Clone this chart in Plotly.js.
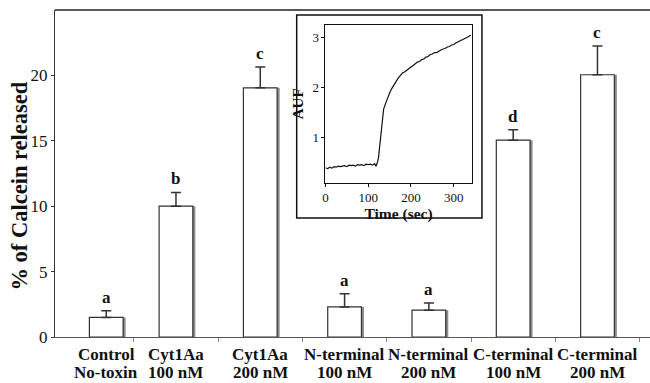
<!DOCTYPE html>
<html>
<head>
<meta charset="utf-8">
<script src="https://cdn.plot.ly/plotly-3.0.1.min.js"></script>
<style>html,body{margin:0;padding:0;background:#fff;}#chart{width:650px;height:383px;}</style>
</head>
<body>
<div id="chart"></div>
<script>
// ---- data ----
var categories = ["Control No-toxin", "Cyt1Aa 100 nM", "Cyt1Aa 200 nM", "N-terminal 100 nM", "N-terminal 200 nM", "C-terminal 100 nM", "C-terminal 200 nM"];
var labelLine1 = ["Control", "Cyt1Aa", "Cyt1Aa", "N-terminal", "N-terminal", "C-terminal", "C-terminal"];
var labelLine2 = ["No-toxin", "100 nM", "200 nM", "100 nM", "200 nM", "100 nM", "200 nM"];
var released = [1.5, 10.0, 19.05, 2.3, 2.05, 15.05, 20.05];
var releasedErr = [0.5, 1.05, 1.6, 1.0, 0.55, 0.8, 2.2];
var letters = ["a", "b", "c", "a", "a", "d", "c"];
var yTicks = [0, 5, 10, 15, 20];

// inset: fluorescence trace
var timeSec = [0,5,10,15,20,25,30,35,40,45,50,55,60,65,70,75,80,85,90,95,100,105,110,115,118,120,122,124,126,128,130,132,136,140,145,150,155,160,165,170,175,180,185,190,195,200,205,210,215,220,225,230,235,240,245,250,255,260,265,270,275,280,285,290,295,300,305,310,315,320,325,330,335,340];
var auf = [0.40,0.38,0.41,0.39,0.42,0.41,0.43,0.42,0.43,0.44,0.42,0.45,0.44,0.45,0.43,0.46,0.45,0.46,0.44,0.47,0.46,0.47,0.45,0.48,0.43,0.47,0.52,0.60,0.78,0.97,1.17,1.35,1.57,1.67,1.79,1.89,1.98,2.06,2.12,2.19,2.24,2.29,2.31,2.35,2.39,2.41,2.44,2.47,2.51,2.52,2.56,2.57,2.61,2.62,2.66,2.67,2.70,2.70,2.73,2.75,2.77,2.78,2.81,2.82,2.85,2.86,2.89,2.91,2.93,2.95,2.98,2.99,3.02,3.05];
var insetXTicks = [0, 100, 200, 300];
var insetYTicks = [1, 2, 3];

// ---- styling / layout ----
var serif = "Liberation Serif";
var barWidth = 0.4;
var firstShift = 0.173;           // the control bar sits a little right of its slot
var offsets = categories.map(function(c, i){ return -barWidth/2 + (i === 0 ? firstShift : 0); });
var shadowOffsets = offsets.map(function(o){ return o + 0.03; });
var pxShift = firstShift * 84.3;

var shadow = {
  type: "bar", x: categories, y: released, width: barWidth, offset: shadowOffsets,
  marker: {color: "#8c8c8c", line: {width: 0}}, hoverinfo: "skip", xaxis: "x", yaxis: "y"
};
var bars = {
  type: "bar", x: categories, y: released, width: barWidth, offset: offsets,
  marker: {color: "#ffffff", line: {color: "#333333", width: 1.2}},
  error_y: {type: "data", symmetric: false, array: releasedErr,
            arrayminus: releasedErr.map(function(){ return 0; }),
            color: "#333333", thickness: 1.5, width: 5},
  xaxis: "x", yaxis: "y"
};
var trace = {
  type: "scatter", mode: "lines", x: timeSec, y: auf,
  line: {color: "#111111", width: 1.2}, xaxis: "x2", yaxis: "y2"
};

var annotations = [];
categories.forEach(function(c, i){
  var xs = i === 0 ? pxShift : 0;
  annotations.push({x: c, xref: "x", y: released[i] + releasedErr[i], yref: "y",
    yanchor: "bottom", yshift: 2, xshift: xs, text: "<b>" + letters[i] + "</b>", showarrow: false,
    font: {family: serif, size: 17, color: "#111"}});
  annotations.push({x: c, xref: "x", y: 0, yref: "paper", yanchor: "middle", yshift: -17, xshift: xs,
    text: "<b>" + labelLine1[i] + "</b>", showarrow: false, font: {family: serif, size: 17, color: "#111"}});
  annotations.push({x: c, xref: "x", y: 0, yref: "paper", yanchor: "middle", yshift: -35.5, xshift: xs,
    text: "<b>" + labelLine2[i] + "</b>", showarrow: false, font: {family: serif, size: 17, color: "#111"}});
});
annotations.push({xref: "paper", yref: "paper", x: 0, y: 0.46, xanchor: "center", yanchor: "middle",
  xshift: -35, textangle: -90, showarrow: false, text: "<b>% of Calcein released</b>",
  font: {family: serif, size: 22.5, color: "#111"}});

var layout = {
  width: 650, height: 383,
  margin: {l: 55, r: 0, t: 10, b: 46},
  paper_bgcolor: "#ffffff", plot_bgcolor: "#ffffff",
  showlegend: false, barmode: "overlay",
  font: {family: serif, color: "#111"},
  xaxis: {type: "category", range: [-0.435, 6.623], showline: true, linecolor: "#555", linewidth: 1,
          ticks: "outside", tickson: "boundaries", ticklen: 4, tickcolor: "#888",
          showticklabels: false, showgrid: false, zeroline: false, fixedrange: true},
  yaxis: {range: [0, 25], tickvals: yTicks, ticks: "outside", ticklen: 3, tickcolor: "#333",
          showline: true, linecolor: "#333", linewidth: 1, showgrid: false, zeroline: false,
          tickfont: {family: serif, size: 17, color: "#111"}},
  xaxis2: {domain: [0.4546, 0.7003], anchor: "y2", range: [0, 342], tickvals: insetXTicks,
           showline: true, mirror: true, linecolor: "#111", linewidth: 1, ticks: "outside", ticklen: 3,
           tickcolor: "#111", showgrid: false, zeroline: false,
           tickfont: {family: serif, size: 13, color: "#111"},
           title: {text: "<b>Time (sec)</b>", font: {family: serif, size: 15.5, color: "#111"}, standoff: 1}},
  yaxis2: {domain: [0.4719, 0.9541], anchor: "x2", range: [0.1, 3.25], tickvals: insetYTicks,
           showline: true, mirror: true, linecolor: "#111", linewidth: 1, ticks: "outside", ticklen: 3,
           tickcolor: "#111", showgrid: false, zeroline: false,
           tickfont: {family: serif, size: 13, color: "#111"},
           title: {text: "<b>AUF</b>", font: {family: serif, size: 15, color: "#111"}, standoff: 5}},
  shapes: [
    {type: "line", xref: "paper", yref: "paper", x0: 0, x1: 1, y0: 1, y1: 1, line: {color: "#222", width: 1.5}},
    {type: "rect", xref: "paper", yref: "paper", x0: 0.4062, x1: 0.7176, y0: 0.3639, y1: 0.9847,
     line: {color: "#111", width: 1.5}, fillcolor: "#ffffff", layer: "below"}
  ],
  annotations: annotations
};

Plotly.newPlot("chart", [shadow, bars, trace], layout, {displayModeBar: false, staticPlot: true});
</script>
</body>
</html>
